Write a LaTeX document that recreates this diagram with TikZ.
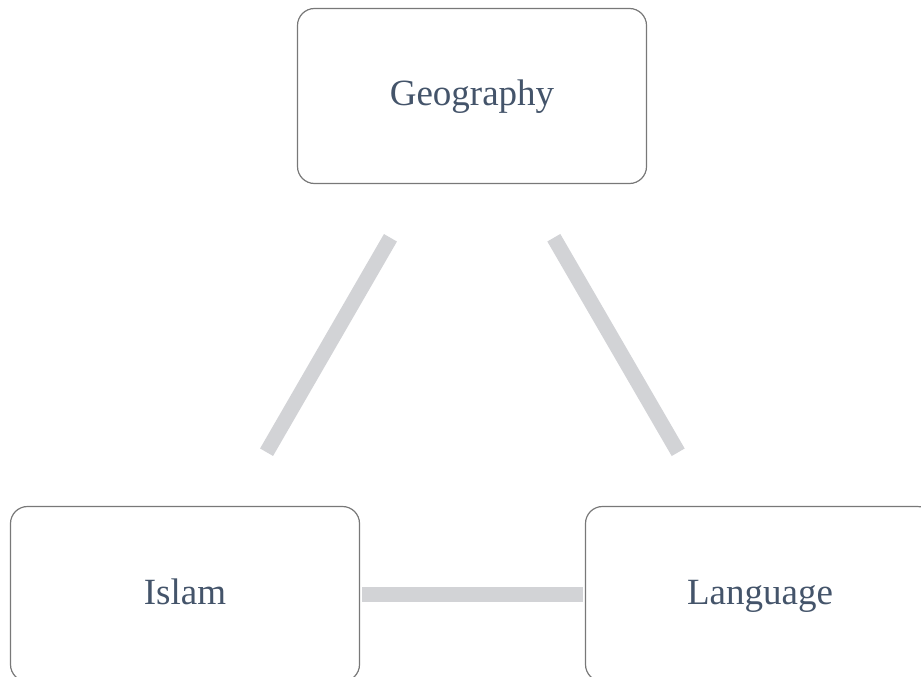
\documentclass[tikz,border=0pt]{standalone}
\usepackage{fontspec}
\setmainfont{Liberation Serif}
\definecolor{boxline}{RGB}{120,120,120}
\definecolor{boxtext}{RGB}{68,84,106}
\definecolor{barfill}{RGB}{210,211,214}
\begin{document}
\begin{tikzpicture}[x=1pt,y=-1pt,
  box/.style={draw=boxline, line width=1.2pt, rounded corners=17pt,
    minimum width=349pt, minimum height=175pt, inner sep=0pt,
    text=boxtext, font=\fontsize{37}{42}\selectfont,
    text height=28pt, text depth=8pt},
  bar/.style={draw=barfill, line width=15pt, line cap=butt}]
\useasboundingbox (0,0) rectangle (921,677);
\clip (0,0) rectangle (921,677);
\node[box] (geo) at (472,96) {Geography};
\node[box] (isl) at (185,594) {Islam};
\node[box] (lang) at (760,594) {Language};
\draw[bar, shorten <=62pt, shorten >=62pt] (geo) -- (isl);
\draw[bar, shorten <=62pt, shorten >=62pt] (geo) -- (lang);
\draw[bar, shorten <=2pt, shorten >=1.5pt] (isl) -- (lang);
\end{tikzpicture}
\end{document}
